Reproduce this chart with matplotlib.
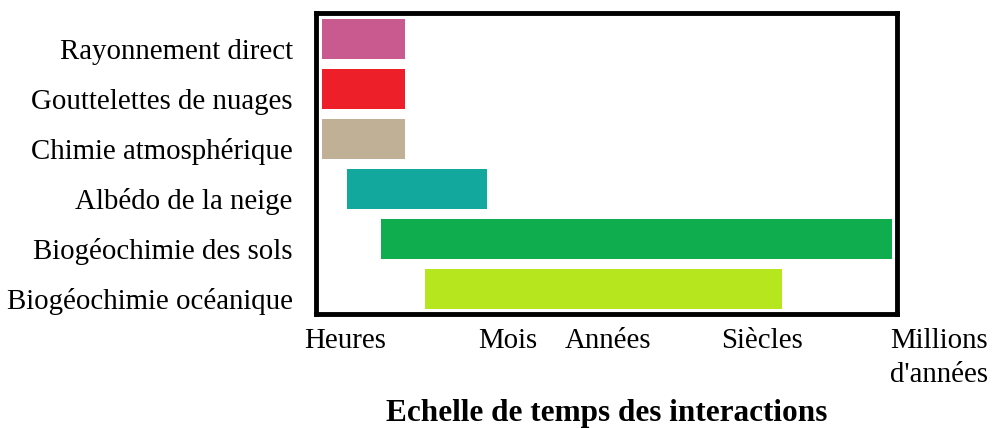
import matplotlib
matplotlib.use("Agg")
import matplotlib.pyplot as plt
import matplotlib.transforms as mtransforms

categories = ["Rayonnement direct", "Gouttelettes de nuages", "Chimie atmosphérique",
              "Albédo de la neige", "Biogéochimie des sols", "Biogéochimie océanique"]
starts = [0.95, 0.95, 0.95, 5.25, 11.1, 18.7]
ends = [15.25, 15.25, 15.25, 29.4, 99.1, 80.2]
colors = ["#C85A8F", "#ED1F28", "#BFB096", "#13A89E", "#10AD4F", "#B5E61E"]

tick_pos = [4.9, 33.0, 50.2, 76.7, 98.8]
tick_labels = ["Heures", "Mois", "Années", "Siècles", "Millions\nd'années"]
xlabel = "Echelle de temps des interactions"

plt.rcParams['font.family'] = ['Liberation Serif', 'DejaVu Serif']

fig = plt.figure(figsize=(9.95, 4.28), dpi=100)
ax = fig.add_axes([0.318, 0.2664, 0.5835, 0.7021])

widths = [e - s for s, e in zip(starts, ends)]
ax.barh(range(len(categories)), widths, left=starts, height=0.8, color=colors,
        edgecolor="none")

ax.set_xlim(0, 100)
ax.set_ylim(5.5, -0.51)
ax.set_yticks(range(len(categories)))
ax.set_yticklabels(categories, fontsize=20.8)
ax.tick_params(axis='y', length=0, pad=17)
ax.set_xticks([])

shift = mtransforms.ScaledTranslation(0, -10 / 100, fig.dpi_scale_trans)
for lbl in ax.get_yticklabels():
    lbl.set_transform(lbl.get_transform() + shift)

for sp in ax.spines.values():
    sp.set_linewidth(3.5)
    sp.set_color("black")

trans = mtransforms.blended_transform_factory(ax.transData, ax.transAxes)
for i, (p, lab) in enumerate(zip(tick_pos, tick_labels)):
    if "\n" in lab:
        ax.text(p, -0.045, lab, transform=trans, ha='left', va='top',
                fontsize=20.8, linespacing=1.4, clip_on=False)
    else:
        ax.text(p, -0.045, lab, transform=trans, ha='center', va='top',
                fontsize=20.8, clip_on=False)

fig.text(0.61, 0.0, xlabel, ha='center', va='bottom', fontsize=22.5,
         fontweight='bold')

fig.savefig("out.png", dpi=100)
